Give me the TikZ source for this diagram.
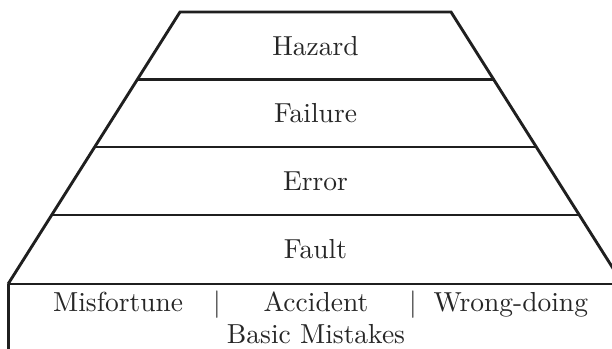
\documentclass[tikz,border=0pt]{standalone}
\usepackage{fontspec}
\begin{document}
\begin{tikzpicture}[x=0.3636pt,y=-0.3636pt,
  edge/.style={line width=1.05pt,draw=black!88},
  label/.style={font=\fontsize{10}{12}\selectfont,text=black!85,inner sep=0pt}]
  \useasboundingbox (0,0) rectangle (612,349);
  \clip (0,0) rectangle (612,349);
  % corners of the stacked trapezoid
  \coordinate (L0) at (180,12);    \coordinate (R0) at (451,12);
  \coordinate (L1) at (137.3,79.5); \coordinate (R1) at (493.7,79.5);
  \coordinate (L2) at (94.7,147);  \coordinate (R2) at (536.3,147);
  \coordinate (L3) at (51.7,215);  \coordinate (R3) at (579.3,215);
  \coordinate (L4) at (8.1,284);   \coordinate (R4) at (622.9,284);
  % outline and level dividers
  \draw[edge] (L4) -- (L0) -- (R0) -- (R4);
  \draw[edge] (L1) -- (R1);
  \draw[edge] (L2) -- (R2);
  \draw[edge] (L3) -- (R3);
  \draw[edge] (L4) -- (R4);
  % base box
  \coordinate (B1) at (8.1,360);
  \draw[edge] (L4) -- (B1);
  % level labels
  \node[label] (hazard)  at (315.5,45.75) {Hazard};
  \node[label] (failure) at (315.5,113.25) {Failure};
  \node[label] (error)   at (315.5,181) {Error};
  \node[label] (fault)   at (315.5,249.5) {Fault};
  % base contents
  \node[label,anchor=base west] (misfortune) at (52.5,312) {Misfortune};
  \node[label,anchor=base] (bar1) at (217,312) {|};
  \node[label,anchor=base west] (accident) at (263,312) {Accident};
  \node[label,anchor=base] (bar2) at (413,312) {|};
  \node[label,anchor=base west] (wrongdoing) at (433,312) {Wrong-doing};
  \node[label,anchor=base] (basic) at (316,343) {Basic Mistakes};
\end{tikzpicture}
\end{document}
